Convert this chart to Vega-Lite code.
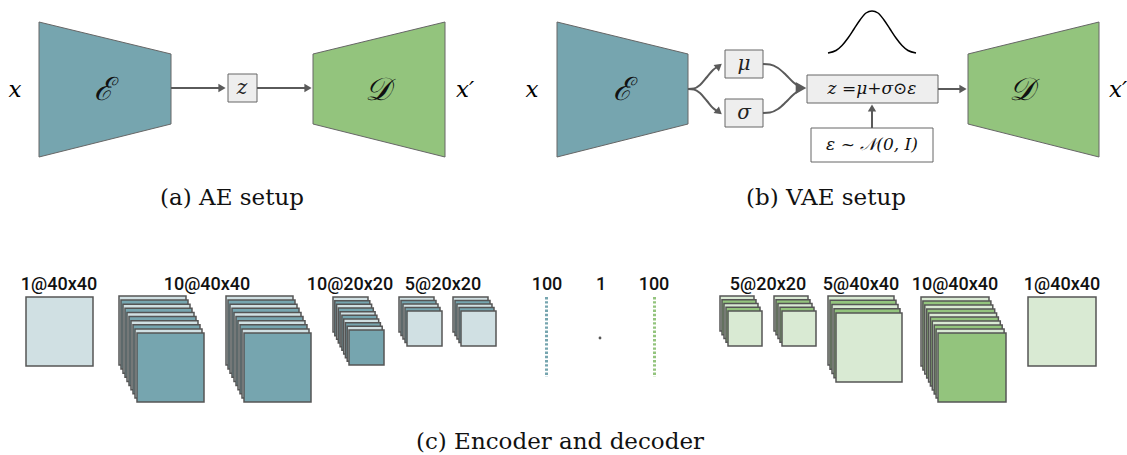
{
  "$schema": "https://vega.github.io/schema/vega-lite/v6.json",
  "width": 1127,
  "height": 455,
  "padding": 0,
  "autosize": {"type": "none"},
  "background": "#ffffff",
  "config": {"view": {"stroke": null}},
  "datasets": {
    "traps": [
      {"id": "encA", "x": 39, "y": 22, "yb": 157, "kind": "td"},
      {"id": "encA", "x": 171, "y": 54, "yb": 124, "kind": "td"},
      {"id": "decA", "x": 313, "y": 54, "yb": 124, "kind": "gd"},
      {"id": "decA", "x": 445, "y": 22, "yb": 157, "kind": "gd"},
      {"id": "encB", "x": 557, "y": 22, "yb": 157, "kind": "td"},
      {"id": "encB", "x": 688, "y": 54, "yb": 124, "kind": "td"},
      {"id": "decB", "x": 968, "y": 54, "yb": 124, "kind": "gd"},
      {"id": "decB", "x": 1099, "y": 22, "yb": 157, "kind": "gd"}
    ],
    "boxes": [
      {"x": 228, "x2": 257, "y": 74, "y2": 102, "kind": "gray"},
      {"x": 725, "x2": 763, "y": 50, "y2": 78, "kind": "gray"},
      {"x": 725, "x2": 763, "y": 99, "y2": 127, "kind": "gray"},
      {"x": 807, "x2": 938, "y": 75, "y2": 103, "kind": "gray"},
      {"x": 811, "x2": 933, "y": 128, "y2": 162, "kind": "white"}
    ],
    "stacks": [
      {"x": 26, "x2": 93, "y": 297, "y2": 366, "kind": "tl"},
      {"x": 119, "x2": 186, "y": 296, "y2": 365, "kind": "tl"},
      {"x": 121, "x2": 188, "y": 300.1, "y2": 369.1, "kind": "td"},
      {"x": 123, "x2": 190, "y": 304.2, "y2": 373.2, "kind": "tl"},
      {"x": 125, "x2": 192, "y": 308.3, "y2": 377.3, "kind": "td"},
      {"x": 127, "x2": 194, "y": 312.4, "y2": 381.4, "kind": "tl"},
      {"x": 129, "x2": 196, "y": 316.6, "y2": 385.6, "kind": "td"},
      {"x": 131, "x2": 198, "y": 320.7, "y2": 389.7, "kind": "tl"},
      {"x": 133, "x2": 200, "y": 324.8, "y2": 393.8, "kind": "td"},
      {"x": 135, "x2": 202, "y": 328.9, "y2": 397.9, "kind": "tl"},
      {"x": 137, "x2": 204, "y": 333, "y2": 402, "kind": "td"},
      {"x": 226, "x2": 293, "y": 296, "y2": 365, "kind": "tl"},
      {"x": 228, "x2": 295, "y": 300.1, "y2": 369.1, "kind": "td"},
      {"x": 230, "x2": 297, "y": 304.2, "y2": 373.2, "kind": "tl"},
      {"x": 232, "x2": 299, "y": 308.3, "y2": 377.3, "kind": "td"},
      {"x": 234, "x2": 301, "y": 312.4, "y2": 381.4, "kind": "tl"},
      {"x": 236, "x2": 303, "y": 316.6, "y2": 385.6, "kind": "td"},
      {"x": 238, "x2": 305, "y": 320.7, "y2": 389.7, "kind": "tl"},
      {"x": 240, "x2": 307, "y": 324.8, "y2": 393.8, "kind": "td"},
      {"x": 242, "x2": 309, "y": 328.9, "y2": 397.9, "kind": "tl"},
      {"x": 244, "x2": 311, "y": 333, "y2": 402, "kind": "td"},
      {"x": 333, "x2": 368, "y": 297, "y2": 332, "kind": "tl"},
      {"x": 334.8, "x2": 369.8, "y": 300.7, "y2": 335.7, "kind": "td"},
      {"x": 336.6, "x2": 371.6, "y": 304.3, "y2": 339.3, "kind": "tl"},
      {"x": 338.3, "x2": 373.3, "y": 308, "y2": 343, "kind": "td"},
      {"x": 340.1, "x2": 375.1, "y": 311.7, "y2": 346.7, "kind": "tl"},
      {"x": 341.9, "x2": 376.9, "y": 315.3, "y2": 350.3, "kind": "td"},
      {"x": 343.7, "x2": 378.7, "y": 319, "y2": 354, "kind": "tl"},
      {"x": 345.4, "x2": 380.4, "y": 322.7, "y2": 357.7, "kind": "td"},
      {"x": 347.2, "x2": 382.2, "y": 326.3, "y2": 361.3, "kind": "tl"},
      {"x": 349, "x2": 384, "y": 330, "y2": 365, "kind": "td"},
      {"x": 399, "x2": 434, "y": 297, "y2": 332, "kind": "tl"},
      {"x": 401, "x2": 436, "y": 300.5, "y2": 335.5, "kind": "td"},
      {"x": 403, "x2": 438, "y": 304, "y2": 339, "kind": "tl"},
      {"x": 405, "x2": 440, "y": 307.5, "y2": 342.5, "kind": "td"},
      {"x": 407, "x2": 442, "y": 311, "y2": 346, "kind": "tl"},
      {"x": 453, "x2": 488, "y": 297, "y2": 332, "kind": "tl"},
      {"x": 455, "x2": 490, "y": 300.5, "y2": 335.5, "kind": "td"},
      {"x": 457, "x2": 492, "y": 304, "y2": 339, "kind": "tl"},
      {"x": 459, "x2": 494, "y": 307.5, "y2": 342.5, "kind": "td"},
      {"x": 461, "x2": 496, "y": 311, "y2": 346, "kind": "tl"},
      {"x": 720, "x2": 754, "y": 296, "y2": 331, "kind": "gl"},
      {"x": 722, "x2": 756, "y": 299.75, "y2": 334.75, "kind": "gd"},
      {"x": 724, "x2": 758, "y": 303.5, "y2": 338.5, "kind": "gl"},
      {"x": 726, "x2": 760, "y": 307.25, "y2": 342.25, "kind": "gd"},
      {"x": 728, "x2": 762, "y": 311, "y2": 346, "kind": "gl"},
      {"x": 774, "x2": 808, "y": 296, "y2": 331, "kind": "gl"},
      {"x": 776, "x2": 810, "y": 299.75, "y2": 334.75, "kind": "gd"},
      {"x": 778, "x2": 812, "y": 303.5, "y2": 338.5, "kind": "gl"},
      {"x": 780, "x2": 814, "y": 307.25, "y2": 342.25, "kind": "gd"},
      {"x": 782, "x2": 816, "y": 311, "y2": 346, "kind": "gl"},
      {"x": 828, "x2": 894, "y": 296, "y2": 365, "kind": "gl"},
      {"x": 830, "x2": 896, "y": 300.25, "y2": 369.25, "kind": "gd"},
      {"x": 832, "x2": 898, "y": 304.5, "y2": 373.5, "kind": "gl"},
      {"x": 834, "x2": 900, "y": 308.75, "y2": 377.75, "kind": "gd"},
      {"x": 836, "x2": 902, "y": 313, "y2": 382, "kind": "gl"},
      {"x": 921, "x2": 989, "y": 297, "y2": 366, "kind": "gl"},
      {"x": 922.9, "x2": 990.9, "y": 301, "y2": 370, "kind": "gd"},
      {"x": 924.8, "x2": 992.8, "y": 305, "y2": 374, "kind": "gl"},
      {"x": 926.7, "x2": 994.7, "y": 309, "y2": 378, "kind": "gd"},
      {"x": 928.6, "x2": 996.6, "y": 313, "y2": 382, "kind": "gl"},
      {"x": 930.4, "x2": 998.4, "y": 317, "y2": 386, "kind": "gd"},
      {"x": 932.3, "x2": 1000.3, "y": 321, "y2": 390, "kind": "gl"},
      {"x": 934.2, "x2": 1002.2, "y": 325, "y2": 394, "kind": "gd"},
      {"x": 936.1, "x2": 1004.1, "y": 329, "y2": 398, "kind": "gl"},
      {"x": 938, "x2": 1006, "y": 333, "y2": 402, "kind": "gd"},
      {"x": 1028, "x2": 1096, "y": 297, "y2": 366, "kind": "gl"}
    ],
    "curves": [
      {"id": "c1", "x": 688, "y": 89}, {"id": "c1", "x": 694, "y": 88.5}, {"id": "c1", "x": 700, "y": 85}, {"id": "c1", "x": 707, "y": 77}, {"id": "c1", "x": 713, "y": 70}, {"id": "c1", "x": 717, "y": 67},
      {"id": "c2", "x": 688, "y": 89}, {"id": "c2", "x": 694, "y": 89.5}, {"id": "c2", "x": 700, "y": 93}, {"id": "c2", "x": 707, "y": 101}, {"id": "c2", "x": 713, "y": 108}, {"id": "c2", "x": 717, "y": 111},
      {"id": "c3", "x": 763, "y": 64}, {"id": "c3", "x": 770, "y": 64.5}, {"id": "c3", "x": 778, "y": 68}, {"id": "c3", "x": 786, "y": 75}, {"id": "c3", "x": 793, "y": 82}, {"id": "c3", "x": 798, "y": 86},
      {"id": "c4", "x": 763, "y": 113}, {"id": "c4", "x": 770, "y": 112.5}, {"id": "c4", "x": 778, "y": 109}, {"id": "c4", "x": 786, "y": 102}, {"id": "c4", "x": 793, "y": 95}, {"id": "c4", "x": 798, "y": 91}
    ],
    "gauss": [
      {"x": 828, "y": 53}, {"x": 836, "y": 50.5}, {"x": 842, "y": 45.5}, {"x": 848, "y": 38}, {"x": 854, "y": 29}, {"x": 860, "y": 20}, {"x": 866, "y": 13}, {"x": 872, "y": 11},
      {"x": 878, "y": 13}, {"x": 884, "y": 20}, {"x": 890, "y": 29}, {"x": 896, "y": 38}, {"x": 902, "y": 45.5}, {"x": 908, "y": 50.5}, {"x": 916, "y": 53}
    ],
    "arrows": [
      {"x": 171, "y": 88, "x2": 221, "y2": 88},
      {"x": 257, "y": 88, "x2": 307, "y2": 88},
      {"x": 938, "y": 89, "x2": 962, "y2": 89},
      {"x": 872, "y": 128, "x2": 872, "y2": 109}
    ],
    "heads": [
      {"x": 222, "y": 88, "angle": 0},
      {"x": 308, "y": 88, "angle": 0},
      {"x": 963, "y": 89, "angle": 0},
      {"x": 872, "y": 108, "angle": -90},
      {"x": 719, "y": 66, "angle": -40},
      {"x": 719, "y": 112, "angle": 40}
    ],
    "bigheads": [
      {"x": 801, "y": 88, "angle": 0}
    ],
    "dots": [
      {"x": 546.5, "y": 297, "y2": 377, "kind": "td"},
      {"x": 654.5, "y": 297, "y2": 377, "kind": "gd"}
    ],
    "single": [{"x": 600, "y": 338}],
    "bigmath": [
      {"x": 15, "y": 90, "label": "x"},
      {"x": 465, "y": 90, "label": "x′"},
      {"x": 532, "y": 90, "label": "x"},
      {"x": 1118, "y": 90, "label": "x′"}
    ],
    "smallmath": [
      {"x": 242, "y": 88, "label": "z"},
      {"x": 744, "y": 64, "label": "μ"},
      {"x": 744, "y": 113, "label": "σ"}
    ],
    "formulas": [
      {"x": 872, "y": 89, "label": "z =μ+σ⊙ε"},
      {"x": 872, "y": 145, "label": "ε ~ 𝒩(0, I)"}
    ],
    "script": [
      {"x": 103, "y": 90, "label": "ℰ"},
      {"x": 378, "y": 90, "label": "𝒟"},
      {"x": 622, "y": 90, "label": "ℰ"},
      {"x": 1022, "y": 90, "label": "𝒟"}
    ],
    "captions": [
      {"x": 232, "y": 205, "label": "(a) AE setup"},
      {"x": 826, "y": 205, "label": "(b) VAE setup"},
      {"x": 560, "y": 449, "label": "(c) Encoder and decoder"}
    ],
    "stacklabels": [
      {"x": 59, "y": 290, "label": "1@40x40"},
      {"x": 207, "y": 290, "label": "10@40x40"},
      {"x": 350, "y": 290, "label": "10@20x20"},
      {"x": 443, "y": 290, "label": "5@20x20"},
      {"x": 547, "y": 290, "label": "100"},
      {"x": 601, "y": 290, "label": "1"},
      {"x": 654, "y": 290, "label": "100"},
      {"x": 768, "y": 290, "label": "5@20x20"},
      {"x": 861, "y": 290, "label": "5@40x40"},
      {"x": 955, "y": 290, "label": "10@40x40"},
      {"x": 1062, "y": 290, "label": "1@40x40"}
    ]
  },
  "encoding": {
    "x": {"field": "x", "type": "quantitative", "scale": {"domain": [0, 1127], "nice": false, "zero": false}, "axis": null},
    "y": {"field": "y", "type": "quantitative", "scale": {"domain": [0, 455], "nice": false, "zero": false, "reverse": true}, "axis": null}
  },
  "layer": [
    {
      "data": {"name": "traps"},
      "mark": {"type": "area", "stroke": "#666666", "strokeWidth": 1, "opacity": 1},
      "encoding": {
        "y2": {"field": "yb"},
        "detail": {"field": "id", "type": "nominal"},
        "color": {"field": "kind", "type": "nominal", "scale": {"domain": ["gray", "white", "tl", "td", "gl", "gd"], "range": ["#eeeeee", "#ffffff", "#d0e0e3", "#76a5af", "#d9ead3", "#93c47d"]}, "legend": null}
      }
    },
    {
      "data": {"name": "boxes"},
      "mark": {"type": "rect", "stroke": "#666666", "strokeWidth": 1, "opacity": 1},
      "encoding": {
        "x2": {"field": "x2"},
        "y2": {"field": "y2"},
        "color": {"field": "kind", "type": "nominal", "scale": {"domain": ["gray", "white", "tl", "td", "gl", "gd"], "range": ["#eeeeee", "#ffffff", "#d0e0e3", "#76a5af", "#d9ead3", "#93c47d"]}, "legend": null}
      }
    },
    {
      "data": {"name": "stacks"},
      "mark": {"type": "rect", "stroke": "#555555", "strokeWidth": 1.5, "opacity": 1},
      "encoding": {
        "x2": {"field": "x2"},
        "y2": {"field": "y2"},
        "color": {"field": "kind", "type": "nominal", "scale": {"domain": ["gray", "white", "tl", "td", "gl", "gd"], "range": ["#eeeeee", "#ffffff", "#d0e0e3", "#76a5af", "#d9ead3", "#93c47d"]}, "legend": null}
      }
    },
    {
      "data": {"name": "curves"},
      "mark": {"type": "line", "interpolate": "monotone", "stroke": "#5a5a5a", "strokeWidth": 2},
      "encoding": {"detail": {"field": "id", "type": "nominal"}}
    },
    {
      "data": {"name": "gauss"},
      "mark": {"type": "line", "interpolate": "monotone", "stroke": "#000000", "strokeWidth": 1.5},
      "encoding": {}
    },
    {
      "data": {"name": "arrows"},
      "mark": {"type": "rule", "stroke": "#5a5a5a", "strokeWidth": 2},
      "encoding": {"x2": {"field": "x2"}, "y2": {"field": "y2"}}
    },
    {
      "data": {"name": "heads"},
      "mark": {"type": "point", "shape": "triangle-right", "filled": true, "fill": "#5a5a5a", "opacity": 1, "size": 70},
      "encoding": {"angle": {"field": "angle", "type": "quantitative", "scale": null}}
    },
    {
      "data": {"name": "bigheads"},
      "mark": {"type": "point", "shape": "triangle-right", "filled": true, "fill": "#5a5a5a", "opacity": 1, "size": 150},
      "encoding": {"angle": {"field": "angle", "type": "quantitative", "scale": null}}
    },
    {
      "data": {"name": "dots"},
      "mark": {"type": "rule", "strokeWidth": 3, "strokeDash": [2.4, 1.8]},
      "encoding": {
        "y2": {"field": "y2"},
        "color": {"field": "kind", "type": "nominal", "scale": {"domain": ["gray", "white", "tl", "td", "gl", "gd"], "range": ["#eeeeee", "#ffffff", "#d0e0e3", "#76a5af", "#d9ead3", "#93c47d"]}, "legend": null}
      }
    },
    {
      "data": {"name": "single"},
      "mark": {"type": "point", "shape": "circle", "filled": true, "fill": "#555555", "opacity": 1, "size": 8},
      "encoding": {}
    },
    {
      "data": {"name": "bigmath"},
      "mark": {"type": "text", "font": "DejaVu Serif", "fontStyle": "italic", "fontSize": 23, "baseline": "middle", "align": "center", "color": "#000000"},
      "encoding": {"text": {"field": "label"}}
    },
    {
      "data": {"name": "smallmath"},
      "mark": {"type": "text", "font": "DejaVu Serif", "fontStyle": "italic", "fontSize": 20, "baseline": "middle", "align": "center", "color": "#222222"},
      "encoding": {"text": {"field": "label"}}
    },
    {
      "data": {"name": "formulas"},
      "mark": {"type": "text", "font": "DejaVu Serif", "fontStyle": "italic", "fontSize": 17, "baseline": "middle", "align": "center", "color": "#111111"},
      "encoding": {"text": {"field": "label"}}
    },
    {
      "data": {"name": "script"},
      "mark": {"type": "text", "font": "DejaVu Serif", "fontStyle": "italic", "fontSize": 32, "baseline": "middle", "align": "center", "color": "#111111"},
      "encoding": {"text": {"field": "label"}}
    },
    {
      "data": {"name": "captions"},
      "mark": {"type": "text", "font": "DejaVu Serif", "fontSize": 23, "baseline": "alphabetic", "align": "center", "color": "#111111"},
      "encoding": {"text": {"field": "label"}}
    },
    {
      "data": {"name": "stacklabels"},
      "mark": {"type": "text", "font": "Roboto", "fontWeight": 500, "fontSize": 18, "baseline": "alphabetic", "align": "center", "color": "#111111"},
      "encoding": {"text": {"field": "label"}}
    }
  ]
}
